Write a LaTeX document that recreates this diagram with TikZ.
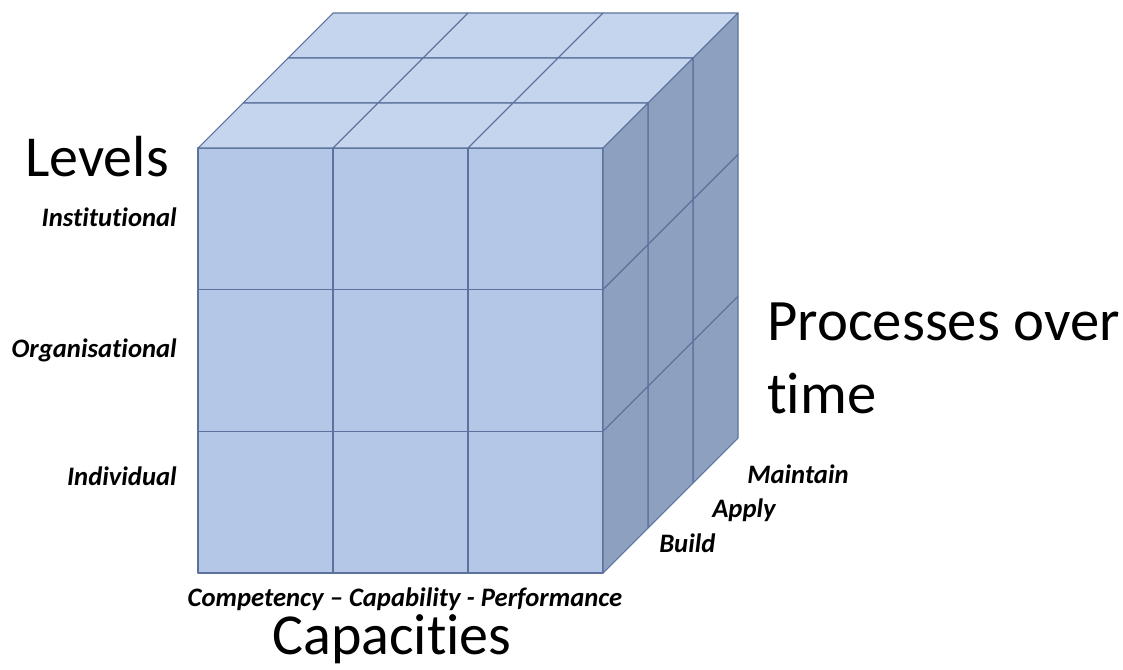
\documentclass[tikz,border=0pt]{standalone}
\usepackage{fontspec}
\setmainfont{Carlito}[Ligatures=NoCommon]
\definecolor{frontblue}{RGB}{180,199,231}
\definecolor{topblue}{RGB}{197,213,237}
\definecolor{sideblue}{RGB}{142,160,192}
\definecolor{edgeblue}{RGB}{92,114,156}
\tikzset{
  cell/.style={draw=edgeblue, line width=0.8pt, line join=round},
  axistitle/.style={inner sep=0.75pt, font=\fontsize{43.5}{52}\selectfont},
  axislabel/.style={inner sep=0.75pt, font=\fontsize{20}{24}\selectfont\bfseries\itshape}
}

\begin{document}
\begin{tikzpicture}[x=0.75pt,y=0.75pt,yscale=-1,xscale=1]
\useasboundingbox (0,0) rectangle (1123,669);

%Front face: 3 x 3 cells
\foreach \i in {0,1,2}{
  \foreach \j in {0,1,2}{
    \draw [cell, fill=frontblue] ({198+135*\i},{148+141.67*\j}) rectangle ++(135,141.67) ;
  }
}
%Top face: cells going back in depth
\foreach \k in {2,1,0}{
  \foreach \i in {0,1,2}{
    \draw [cell, fill=topblue] ({198+135*\i+45*\k},{148-45*\k}) -- ++(135,0) -- ++(45,-45) -- ++(-135,0) -- cycle ;
  }
}
%Right face: cells going back in depth
\foreach \k in {2,1,0}{
  \foreach \j in {0,1,2}{
    \draw [cell, fill=sideblue] ({603+45*\k},{148+141.67*\j-45*\k}) -- ++(45,-45) -- ++(0,141.67) -- ++(-45,45) -- cycle ;
  }
}

% Text Node
\node [axistitle, anchor=base west] (levels) at (24,176) {Levels};
% Text Node
\node [axislabel, anchor=base east] (institutional) at (178,226) {Institutional};
% Text Node
\node [axislabel, anchor=base east] (organisational) at (178,357) {Organisational};
% Text Node
\node [axislabel, anchor=base east] (individual) at (178,485) {Individual};
% Text Node
\node [axislabel, anchor=base] (ccp) at (405,606) {Competency – Capability - Performance};
% Text Node
\node [axistitle, anchor=base] (capacities) at (392,654) {Capacities};
% Text Node
\node [axistitle, anchor=base west, font=\fontsize{44}{52}\selectfont] (processes) at (766,340) {Processes over};
% Text Node
\node [axistitle, anchor=base west, font=\fontsize{44}{52}\selectfont] (time) at (766,413) {time};
% Text Node
\node [axislabel, anchor=base west] (maintain) at (746,483) {Maintain};
% Text Node
\node [axislabel, anchor=base west] (apply) at (711,517) {Apply};
% Text Node
\node [axislabel, anchor=base west] (build) at (658,552) {Build};

\end{tikzpicture}
\end{document}
